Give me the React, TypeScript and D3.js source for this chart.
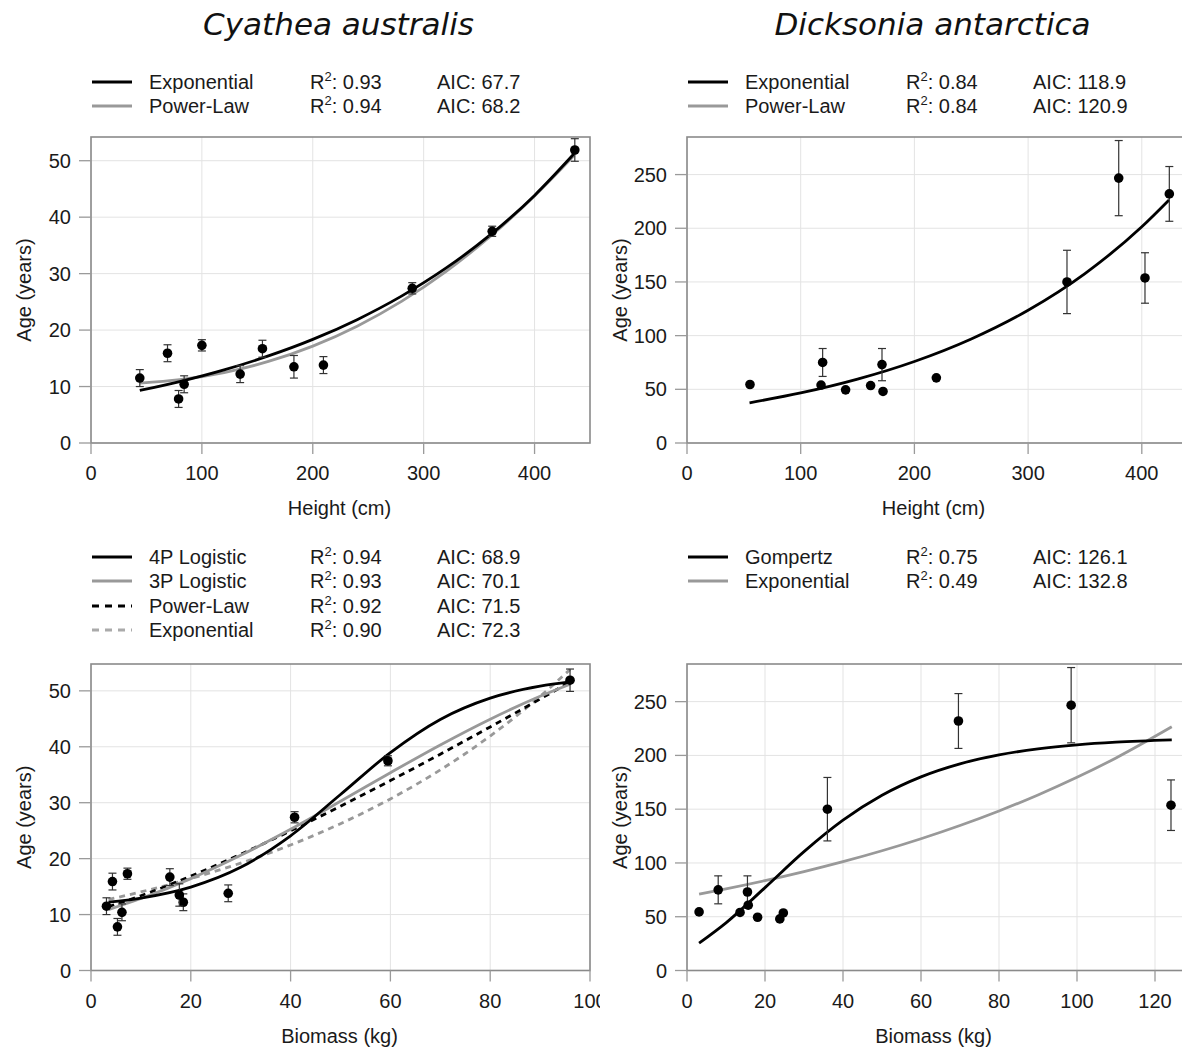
import React from 'react';
import * as d3 from 'd3';

// ---------- Data: Cyathea australis ----------
const cyHeight = [44, 69, 79, 84, 100, 134.5, 154.6, 183, 209.6, 289.7, 361.8, 436.3];
const cyBiomass = [3.1, 4.3, 5.3, 6.2, 7.3, 18.5, 15.8, 17.7, 27.5, 40.8, 59.5, 96];
const cyAge = [11.5, 15.9, 7.8, 10.4, 17.3, 12.2, 16.7, 13.5, 13.8, 27.4, 37.5, 51.9];
const cyAgeErr = [1.5, 1.5, 1.5, 1.5, 1.0, 1.5, 1.5, 2.0, 1.5, 1.0, 0.9, 2.0];

// ---------- Data: Dicksonia antarctica ----------
const dkHeight = [55.4, 117.9, 119.3, 139.5, 161.5, 171.5, 172.4, 219.3, 334.2, 379.7, 402.8, 424.2];
const dkBiomass = [3.1, 13.6, 8.0, 18.1, 24.7, 15.5, 23.8, 15.7, 36.0, 98.5, 124.1, 69.6];
const dkAge = [54.5, 54, 75, 49.5, 53.5, 73, 48, 60.7, 150, 246.7, 153.7, 232];
const dkAgeErr = [0, 0, 13, 0, 0, 15, 0, 0, 29.5, 35, 23.5, 25.5];

// ---------- Fitted curves ----------
const cyHtCurveX = [44, 80, 120, 160, 200, 240, 280, 320, 360, 400, 436];
const cyHtExpY = [9.3, 10.88, 12.95, 15.42, 18.35, 21.85, 26.01, 30.96, 36.85, 43.86, 51.31];
const cyHtPowY = [10.6, 11.21, 12.48, 14.45, 17.16, 20.69, 25.08, 30.36, 36.59, 43.76, 51.0];

const dkHtCurveX = [55, 100, 150, 200, 250, 300, 350, 400, 424];
const dkHtExpY = [37.43, 46.61, 59.49, 75.92, 96.9, 123.65, 157.8, 201.42, 226.44];

const cyBmCurveX = [3.5, 10, 20, 30, 40, 50, 60, 70, 80, 90, 96];
const cyBm4PY = [12.23, 12.96, 14.92, 18.45, 24.09, 31.46, 38.96, 44.89, 48.7, 50.83, 51.59];
const cyBm3PY = [10.89, 12.87, 16.43, 20.59, 25.25, 30.25, 35.36, 40.33, 44.94, 49.03, 51.19];
const cyBmPowY = [11.42, 13.36, 16.88, 20.79, 24.97, 29.37, 33.95, 38.68, 43.55, 48.54, 51.6];
const cyBmExpY = [12.7, 14.06, 16.43, 19.21, 22.45, 26.25, 30.68, 35.86, 41.92, 49.01, 53.82];

const dkBmCurveX = [3.1, 10, 20, 30, 40, 50, 60, 70, 80, 90, 100, 110, 124.3];
const dkBmGompY = [25.47, 44.35, 77.08, 110.53, 139.8, 162.93, 180.02, 192.12, 200.44, 206.06, 209.8, 212.28, 214.43];
const dkBmExpY = [71.1, 75.95, 83.57, 91.96, 101.19, 111.34, 122.52, 134.82, 148.35, 163.24, 179.62, 197.64, 226.61];

// ---------- Tick values ----------
const heightTicks = [0, 100, 200, 300, 400];
const cyAgeTicks = [0, 10, 20, 30, 40, 50];
const dkAgeTicks = [0, 50, 100, 150, 200, 250];
const cyBiomassTicks = [0, 20, 40, 60, 80, 100];
const dkBiomassTicks = [0, 20, 40, 60, 80, 100, 120];

// ---------- Legend entries ----------
const cyHtLegend = [
  { label: 'Exponential', r2: '0.93', aic: '67.7' },
  { label: 'Power-Law', r2: '0.94', aic: '68.2' },
];
const dkHtLegend = [
  { label: 'Exponential', r2: '0.84', aic: '118.9' },
  { label: 'Power-Law', r2: '0.84', aic: '120.9' },
];
const cyBmLegend = [
  { label: '4P Logistic', r2: '0.94', aic: '68.9' },
  { label: '3P Logistic', r2: '0.93', aic: '70.1' },
  { label: 'Power-Law', r2: '0.92', aic: '71.5' },
  { label: 'Exponential', r2: '0.90', aic: '72.3' },
];
const dkBmLegend = [
  { label: 'Gompertz', r2: '0.75', aic: '126.1' },
  { label: 'Exponential', r2: '0.49', aic: '132.8' },
];

const BLACK = '#000000';
const GREY = '#999999';
const DASH = '6,5';
const FONT = '"Liberation Sans", Arial, sans-serif';

type Style = { color: string; dash?: string };
type Curve = Style & { xs: number[]; ys: number[] };
type LegendRow = { label: string; r2: string; aic: string };

interface PanelProps {
  id: string;
  left: number; right: number; top: number; bottom: number;
  xMax: number; yMax: number;
  xTicks: number[]; yTicks: number[];
  xLabel: string;
  xs: number[]; ys: number[]; errs: number[];
  curves: Curve[];
  legend: LegendRow[];
  legendStyles: Style[];
  legendY: number[];
  clipRight: number;
  titleCenter: number;
}

function Panel(p: PanelProps) {
  const x = d3.scaleLinear().domain([0, p.xMax]).range([p.left, p.right]);
  const y = d3.scaleLinear().domain([0, p.yMax]).range([p.bottom, p.top]);
  const line = d3.line<[number, number]>().x(d => x(d[0])).y(d => y(d[1])).curve(d3.curveMonotoneX);
  const clipId = `clip-${p.id}`;
  const plotClip = `plot-${p.id}`;
  return (
    <g clipPath={`url(#${clipId})`}>
      <defs>
        <clipPath id={clipId}>
          <rect x={p.left - 100} y={0} width={p.clipRight - (p.left - 100)} height={1049} />
        </clipPath>
        <clipPath id={plotClip}>
          <rect x={p.left} y={p.top} width={p.right - p.left} height={p.bottom - p.top} />
        </clipPath>
      </defs>
      {p.xTicks.map(t => (
        <line key={'gx' + t} x1={x(t)} x2={x(t)} y1={p.top} y2={p.bottom} stroke="#e3e3e3" strokeWidth={1} />
      ))}
      {p.yTicks.map(t => (
        <line key={'gy' + t} x1={p.left} x2={p.right} y1={y(t)} y2={y(t)} stroke="#e3e3e3" strokeWidth={1} />
      ))}
      <rect x={p.left} y={p.top} width={p.right - p.left} height={p.bottom - p.top} fill="none" stroke="#8a8a8a" strokeWidth={1.6} />
      {p.xTicks.map(t => (
        <g key={'tx' + t}>
          <line x1={x(t)} x2={x(t)} y1={p.bottom} y2={p.bottom + 11} stroke="#9a9a9a" strokeWidth={1.3} />
          <text x={x(t)} y={p.bottom + 37} textAnchor="middle" fontFamily={FONT} fontSize={20} fill="#1a1a1a">{t}</text>
        </g>
      ))}
      {p.yTicks.map(t => (
        <g key={'ty' + t}>
          <line x1={p.left - 12} x2={p.left} y1={y(t)} y2={y(t)} stroke="#9a9a9a" strokeWidth={1.3} />
          <text x={p.left - 20} y={y(t) + 7} textAnchor="end" fontFamily={FONT} fontSize={20} fill="#1a1a1a">{t}</text>
        </g>
      ))}
      <text x={p.titleCenter} y={p.bottom + 72} textAnchor="middle" fontFamily={FONT} fontSize={20} fill="#1a1a1a">{p.xLabel}</text>
      <text transform={`translate(${p.left - 60},${(p.top + p.bottom) / 2}) rotate(-90)`} textAnchor="middle" fontFamily={FONT} fontSize={20} fill="#1a1a1a">Age (years)</text>
      <g clipPath={`url(#${plotClip})`}>
        {p.curves.map((c, i) => (
          <path key={'c' + i} d={line(c.xs.map((v, j) => [v, c.ys[j]] as [number, number])) || ''}
            fill="none" stroke={c.color} strokeWidth={2.8} strokeDasharray={c.dash} />
        ))}
      </g>
      {p.xs.map((v, i) => {
        const e = p.errs[i];
        const cx = x(v);
        return (
          <g key={'pt' + i}>
            {e > 0 && (
              <g stroke="#333" strokeWidth={1.2}>
                <line x1={cx} x2={cx} y1={y(p.ys[i] - e)} y2={y(p.ys[i] + e)} />
                <line x1={cx - 4} x2={cx + 4} y1={y(p.ys[i] - e)} y2={y(p.ys[i] - e)} />
                <line x1={cx - 4} x2={cx + 4} y1={y(p.ys[i] + e)} y2={y(p.ys[i] + e)} />
              </g>
            )}
            <circle cx={cx} cy={y(p.ys[i])} r={4.8} fill="#000" />
          </g>
        );
      })}
      {p.legend.map((row, i) => {
        const ly = p.legendY[i];
        const st = p.legendStyles[i];
        return (
          <g key={'lg' + i} fontFamily={FONT} fontSize={20} fill="#1a1a1a">
            <line x1={p.left + 1} x2={p.left + 41} y1={ly} y2={ly} stroke={st.color} strokeWidth={2.8}
              strokeDasharray={st.dash ? '7,6' : undefined} />
            <text x={p.left + 58} y={ly + 7}>{row.label}</text>
            <text x={p.left + 219} y={ly + 7}>R<tspan dy={-8} fontSize={13}>2</tspan><tspan dy={8}>: {row.r2}</tspan></text>
            <text x={p.left + 346} y={ly + 7}>AIC: {row.aic}</text>
          </g>
        );
      })}
    </g>
  );
}

export default function App() {
  const leftL = 91, leftR = 590, rightL = 687, rightR = 1186;
  const topT = 137, topB = 443, botT = 664, botB = 970.5;
  const lcx = (leftL + leftR) / 2 - 1;
  const rcx = (rightL + rightR) / 2 - 3;
  return (
    <svg width={1182} height={1049} style={{ position: 'absolute', left: 0, top: 0, background: '#fff' }}>
      <rect x={0} y={0} width={1182} height={1049} fill="#fff" />
      <text x={lcx - 1} y={35} textAnchor="middle" fontFamily='"DejaVu Sans", Verdana, sans-serif' fontStyle="italic" fontSize={31} fill="#111">Cyathea australis</text>
      <text x={rcx - 1} y={35} textAnchor="middle" fontFamily='"DejaVu Sans", Verdana, sans-serif' fontStyle="italic" fontSize={31} fill="#111">Dicksonia antarctica</text>

      <Panel id="p1" left={leftL} right={leftR} top={topT} bottom={topB}
        xMax={450} yMax={54.2} xTicks={heightTicks} yTicks={cyAgeTicks} xLabel="Height (cm)"
        xs={cyHeight} ys={cyAge} errs={cyAgeErr}
        curves={[
          { xs: cyHtCurveX, ys: cyHtPowY, color: GREY },
          { xs: cyHtCurveX, ys: cyHtExpY, color: BLACK },
        ]}
        legend={cyHtLegend} legendStyles={[{ color: BLACK }, { color: GREY }]} legendY={[82, 106]}
        clipRight={600} titleCenter={lcx} />

      <Panel id="p2" left={rightL} right={rightR} top={topT} bottom={topB}
        xMax={(rightR - rightL) / 1.137} yMax={285} xTicks={heightTicks} yTicks={dkAgeTicks} xLabel="Height (cm)"
        xs={dkHeight} ys={dkAge} errs={dkAgeErr}
        curves={[{ xs: dkHtCurveX, ys: dkHtExpY, color: BLACK }]}
        legend={dkHtLegend} legendStyles={[{ color: BLACK }, { color: GREY }]} legendY={[82, 106]}
        clipRight={1182} titleCenter={rcx} />

      <Panel id="p3" left={leftL} right={leftR} top={botT} bottom={botB}
        xMax={100} yMax={54.8} xTicks={cyBiomassTicks} yTicks={cyAgeTicks} xLabel="Biomass (kg)"
        xs={cyBiomass} ys={cyAge} errs={cyAgeErr}
        curves={[
          { xs: cyBmCurveX, ys: cyBmExpY, color: GREY, dash: DASH },
          { xs: cyBmCurveX, ys: cyBmPowY, color: BLACK, dash: DASH },
          { xs: cyBmCurveX, ys: cyBm3PY, color: GREY },
          { xs: cyBmCurveX, ys: cyBm4PY, color: BLACK },
        ]}
        legend={cyBmLegend}
        legendStyles={[{ color: BLACK }, { color: GREY }, { color: BLACK, dash: DASH }, { color: '#aaaaaa', dash: DASH }]}
        legendY={[557, 581, 606, 630]}
        clipRight={600} titleCenter={lcx} />

      <Panel id="p4" left={rightL} right={rightR} top={botT} bottom={botB}
        xMax={(rightR - rightL) / 3.9} yMax={285} xTicks={dkBiomassTicks} yTicks={dkAgeTicks} xLabel="Biomass (kg)"
        xs={dkBiomass} ys={dkAge} errs={dkAgeErr}
        curves={[
          { xs: dkBmCurveX, ys: dkBmExpY, color: GREY },
          { xs: dkBmCurveX, ys: dkBmGompY, color: BLACK },
        ]}
        legend={dkBmLegend} legendStyles={[{ color: BLACK }, { color: GREY }]} legendY={[557, 581]}
        clipRight={1182} titleCenter={rcx} />
    </svg>
  );
}
